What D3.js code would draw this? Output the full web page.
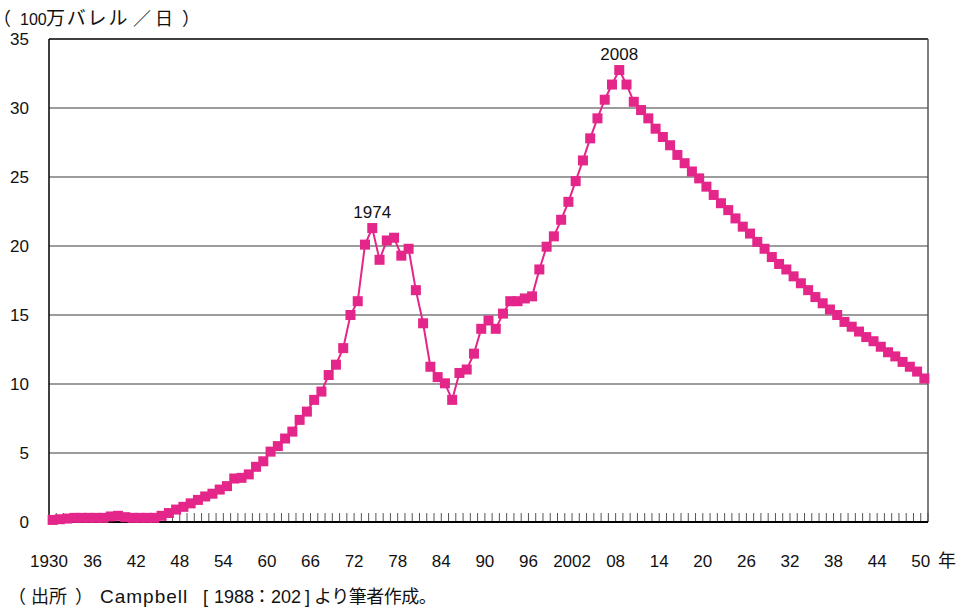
<!DOCTYPE html>
<html><head><meta charset="utf-8">
<script src="https://cdnjs.cloudflare.com/ajax/libs/d3/7.8.5/d3.min.js"></script>
<style>
body{margin:0;background:#fff;}
text{font-family:"Liberation Sans",Arial,"Noto Sans CJK JP",sans-serif;fill:#111;}
.cjk{font-family:"Noto Sans CJK JP",sans-serif;}
.half{font-family:"Noto Sans CJK JP",sans-serif;font-feature-settings:"halt" 1;}
.lat{font-family:"Liberation Sans",Arial,sans-serif;}
</style></head><body>
<svg id="chart" width="962" height="608"></svg>
<script>
const startYear = 1930, endYear = 2050;
const years = d3.range(startYear, endYear + 1);
const production = [
 0.15,0.2,0.25,0.3,0.3,0.3,0.3,0.3,0.4,0.45,
 0.35,0.3,0.3,0.3,0.3,0.45,0.65,0.9,1.1,1.35,
 1.6,1.85,2.05,2.35,2.6,3.15,3.2,3.45,4.0,4.4,
 5.1,5.5,6.05,6.55,7.4,8.0,8.85,9.45,10.65,11.4,
 12.6,15.0,16.0,20.1,21.3,19.0,20.4,20.6,19.3,19.8,
 16.8,14.4,11.25,10.5,10.05,8.85,10.8,11.05,12.2,14.0,
 14.6,14.0,15.1,16.0,16.0,16.2,16.35,18.3,19.95,20.7,
 21.9,23.2,24.7,26.2,27.8,29.25,30.6,31.7,32.75,31.7,
 30.45,29.85,29.25,28.5,27.9,27.3,26.6,26.0,25.4,24.9,
 24.3,23.7,23.1,22.6,22.0,21.4,20.9,20.3,19.8,19.2,
 18.7,18.3,17.8,17.3,16.8,16.3,15.85,15.4,15.0,14.5,
 14.15,13.8,13.4,13.1,12.7,12.3,12.0,11.6,11.25,10.9,
 10.4
];
const yTicks = [0,5,10,15,20,25,30,35];
const xTickYears = [1930,1936,1942,1948,1954,1960,1966,1972,1978,1984,1990,1996,2002,2008,2014,2020,2026,2032,2038,2044,2050];
const xTickLabels = ["1930","36","42","48","54","60","66","72","78","84","90","96","2002","08","14","20","26","32","38","44","50"];
const peakYears = [1974, 2008];
const peakLabels = ["1974", "2008"];
const xUnit = "年";
// title: （100万バレル／日）
const titleParts = [
  {t:"（", x:2, c:"half", s:18},
  {t:"100", x:20, c:"lat", s:16},
  {t:"万バレル", x:46, c:"cjk", s:19, ls:1.8},
  {t:"／", x:133, c:"cjk", s:18},
  {t:"日", x:155, c:"cjk", s:18},
  {t:"）", x:182, c:"cjk", s:18}
];
// source: （出所） Campbell [ 1988：202 ] より筆者作成。
const sourceParts = [
  {t:"（", x:8, c:"cjk", s:18},
  {t:"出所", x:31, c:"cjk", s:18},
  {t:"）", x:75, c:"cjk", s:18},
  {t:"Campbell", x:100, c:"lat", s:19, ls:1},
  {t:"[", x:203, c:"lat", s:18},
  {t:"1988", x:214, c:"lat", s:18},
  {t:"：", x:253, c:"cjk", s:18},
  {t:"202", x:271, c:"lat", s:18},
  {t:"]", x:305, c:"lat", s:18},
  {t:"より筆者作成。", x:314, c:"cjk", s:18, ls:-0.5}
];

(function(){
const svg = d3.select("#chart");
const pl = 49, pr = 928, pt = 39, pb = 522;
const color = "#e4258a";

const x = d3.scaleBand().domain(years).range([pl, pr]);
const cx = d => x(d) + x.bandwidth()/2;
const y = d3.scaleLinear().domain([0, 35]).range([pb, pt]);

// gridlines
svg.append("g").selectAll("line").data(yTicks.filter(t => t > 0 && t < 35)).join("line")
  .attr("x1", pl).attr("x2", pr).attr("y1", d => y(d)).attr("y2", d => y(d))
  .attr("stroke", "#3a3a3a").attr("stroke-width", 1.2);

// plot border
svg.append("line").attr("x1", pl).attr("x2", pr).attr("y1", pt).attr("y2", pt).attr("stroke", "#000").attr("stroke-width", 1.5);
svg.append("line").attr("x1", pr).attr("x2", pr).attr("y1", pt).attr("y2", pb).attr("stroke", "#555").attr("stroke-width", 1.5);
svg.append("line").attr("x1", pl).attr("x2", pl).attr("y1", pt).attr("y2", pb).attr("stroke", "#000").attr("stroke-width", 1.5);

// x-axis ticks (inside, at category boundaries)
const bounds = years.map(d => x(d)).concat([pr]);
svg.append("g").selectAll("line").data(bounds).join("line")
  .attr("x1", d => d).attr("x2", d => d).attr("y1", pb).attr("y2", pb - 9)
  .attr("stroke", "#555").attr("stroke-width", 1);
svg.append("line").attr("x1", pl).attr("x2", pr).attr("y1", pb).attr("y2", pb).attr("stroke", "#000").attr("stroke-width", 1.8);

// y labels
svg.append("g").selectAll("text").data(yTicks).join("text")
  .attr("x", 29).attr("y", d => y(d)).attr("dy", "0.35em")
  .attr("text-anchor", "end").attr("font-size", 17).text(d => d);

// x labels
svg.append("g").selectAll("text").data(xTickYears).join("text")
  .attr("x", d => x(d)).attr("y", 567)
  .attr("text-anchor", "middle").attr("font-size", 17)
  .text((d, i) => xTickLabels[i]);
svg.append("text").attr("class", "cjk").attr("x", 938).attr("y", 567).attr("font-size", 18).text(xUnit);

// line
const pts = years.map((d, i) => [cx(d), y(production[i])]);
svg.append("path").attr("d", d3.line()(pts)).attr("fill", "none").attr("stroke", color).attr("stroke-width", 2);
svg.append("g").selectAll("rect").data(pts).join("rect")
  .attr("x", d => d[0] - 5).attr("y", d => d[1] - 5).attr("width", 10).attr("height", 10)
  .attr("fill", color);

// peak labels
svg.append("g").selectAll("text").data(peakYears).join("text")
  .attr("x", d => cx(d)).attr("y", d => y(production[years.indexOf(d)]) - 10)
  .attr("text-anchor", "middle").attr("font-size", 17)
  .text((d, i) => peakLabels[i]);

function parts(arr, baseY) {
  const t = svg.append("text").attr("y", baseY);
  arr.forEach(p => {
    const s = t.append("tspan").attr("x", p.x).attr("class", p.c).attr("font-size", p.s).text(p.t);
    if (p.ls) s.attr("letter-spacing", p.ls);
  });
}
parts(titleParts, 25);
parts(sourceParts, 603);
})();
</script>
</body></html>
